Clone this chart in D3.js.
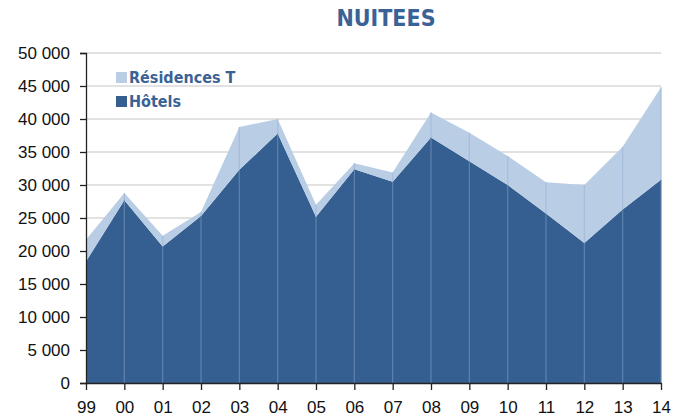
<!DOCTYPE html>
<html>
<head>
<meta charset="utf-8">
<script src="https://cdn.jsdelivr.net/npm/d3@7"></script>
<style>
  body { margin: 0; background: #fff; }
  svg { display: block; font-family: "DejaVu Sans Condensed", "DejaVu Sans", sans-serif; }
</style>
</head>
<body>
<svg id="chart" width="677" height="418"></svg>
<script>
// donnees
const annees = ["99", "00", "01", "02", "03", "04", "05", "06", "07", "08", "09", "10", "11", "12", "13", "14"];
const hotels = [18400, 27700, 20700, 25300, 32300, 37800, 25200, 32400, 30500, 37200, 33600, 30000, 25700, 21200, 26300, 30800];
const residences = [3300, 1100, 1600, 600, 6500, 2200, 1800, 900, 1400, 3800, 4300, 4400, 4700, 8800, 9500, 14000];
const yTicks = [0, 5000, 10000, 15000, 20000, 25000, 30000, 35000, 40000, 45000, 50000];

const margin = { top: 53, right: 16, bottom: 35, left: 86 },
  width = 677 - margin.left - margin.right,
  height = 418 - margin.top - margin.bottom;

const svg = d3.select("#chart");
const g = svg.append("g").attr("transform", `translate(${margin.left},${margin.top})`);

const data = annees.map((a, i) => ({ annee: a, hotels: hotels[i], residences: residences[i] }));

const x = d3.scalePoint().domain(annees).range([0, width]);
const y = d3.scaleLinear().domain([0, 50000]).range([height, 0]);

const fmt = (v) => d3.format(",")(v).replace(/,/g, " ");

// grille
g.append("g")
  .selectAll("line")
  .data(yTicks.slice(1))
  .join("line")
  .attr("x1", 0)
  .attr("x2", width)
  .attr("y1", (d) => y(d))
  .attr("y2", (d) => y(d))
  .attr("stroke", "#d9d9d9")
  .attr("stroke-width", 1.5);

// aires empilees
const stack = d3.stack().keys(["hotels", "residences"]);
const series = stack(data);
const couleurs = { hotels: "#365f91", residences: "#b9cde5" };

const area = d3
  .area()
  .x((d) => x(d.data.annee))
  .y0((d) => y(d[0]))
  .y1((d) => y(d[1]));

g.append("g")
  .selectAll("path")
  .data(series)
  .join("path")
  .attr("d", area)
  .attr("fill", (s) => couleurs[s.key]);

// traits verticaux
g.append("g")
  .selectAll("line")
  .data(data.slice(1))
  .join("line")
  .attr("x1", (d) => x(d.annee))
  .attr("x2", (d) => x(d.annee))
  .attr("y1", height)
  .attr("y2", (d) => y(d.hotels))
  .attr("stroke", "#5f82ae")
  .attr("stroke-width", 1.2);

g.append("g")
  .selectAll("line")
  .data(data.slice(1))
  .join("line")
  .attr("x1", (d) => x(d.annee))
  .attr("x2", (d) => x(d.annee))
  .attr("y1", (d) => y(d.hotels))
  .attr("y2", (d) => y(d.hotels + d.residences))
  .attr("stroke", "#a6bddb")
  .attr("stroke-width", 1.2);

// axes
const yAxis = g
  .append("g")
  .call(d3.axisLeft(y).tickValues(yTicks).tickFormat(fmt).tickSize(6).tickPadding(10));
yAxis.select(".domain").attr("stroke", "#222").attr("stroke-width", 1.3);
yAxis.selectAll(".tick line").attr("stroke", "#222").attr("stroke-width", 1.3);
yAxis.selectAll("text").attr("fill", "#111").style("font-size", "17px");

const xAxis = g
  .append("g")
  .attr("transform", `translate(0,${height})`)
  .call(d3.axisBottom(x).tickSize(7).tickSizeOuter(0).tickPadding(11));
xAxis.select(".domain").attr("stroke", "#222").attr("stroke-width", 1.3);
xAxis.selectAll(".tick line").attr("stroke", "#222").attr("stroke-width", 1.3);
xAxis.selectAll("text").attr("fill", "#111").style("font-size", "17px");

// titre
svg
  .append("text")
  .attr("x", 386)
  .attr("y", 26)
  .attr("text-anchor", "middle")
  .attr("fill", "#3a6296")
  .style("font-size", "23px")
  .style("font-weight", "bold")
  .text("NUITEES");

// legende
const legende = [
  { label: "Résidences T", key: "residences" },
  { label: "Hôtels", key: "hotels" },
];
const leg = svg.append("g").attr("transform", "translate(116,72)");
legende.forEach((d, i) => {
  const row = leg.append("g").attr("transform", `translate(0,${i * 24})`);
  row.append("rect").attr("width", 11).attr("height", 11).attr("fill", couleurs[d.key]);
  row
    .append("text")
    .attr("x", 13)
    .attr("y", 11)
    .attr("fill", "#3a6296")
    .style("font-size", "16px")
    .style("font-weight", "bold")
    .text(d.label);
});
</script>
</body>
</html>
